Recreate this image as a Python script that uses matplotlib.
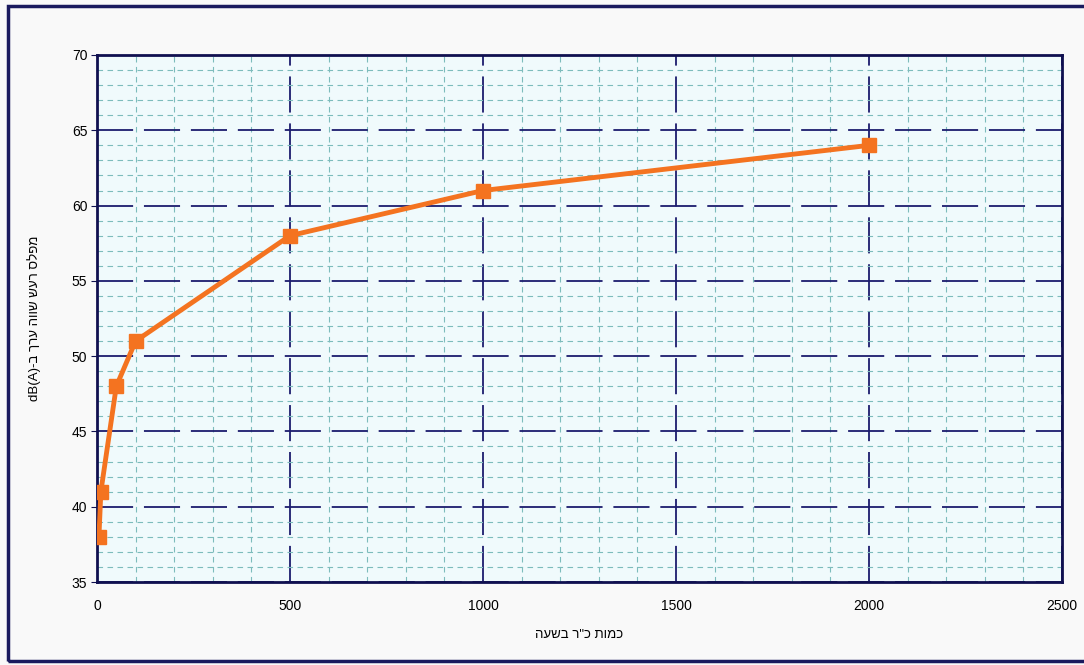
import matplotlib

matplotlib.use("Agg")
import matplotlib.pyplot as plt
from matplotlib.patches import Rectangle
from matplotlib.ticker import MultipleLocator

# נתונים: כמות כלי רכב בשעה מול מפלס רעש
flow = [5, 10, 50, 100, 500, 1000, 2000]
noise_db = [38, 41, 48, 51, 58, 61, 64]

# matplotlib אינו מטפל בכיווניות, לכן המחרוזות בסדר חזותי
x_label = 'העשב ר"כ תומכ'
y_label = "dB(A)-ב ךרע הווש שער סלפמ"

plt.rcParams["font.family"] = ["Liberation Sans", "DejaVu Sans"]

W, H = 1084, 665
fig = plt.figure(figsize=(W / 100, H / 100), dpi=100, facecolor="#f9f9f9")

# מסגרת חיצונית (הצד הימני יוצא מהתמונה)
fig.patches.append(Rectangle((8 / W, 4 / H), 1.1, (H - 10) / H, transform=fig.transFigure,
                             fill=False, edgecolor="#1a1a5e", linewidth=2.5))

ax = fig.add_axes([97 / W, 1 - 582 / H, (1062 - 97) / W, (582 - 55) / H])
ax.set_facecolor("#f0fafc")

ax.plot(flow, noise_db, color="#f47320", linewidth=3.5, marker="s",
        markersize=10, markerfacecolor="#f47320", markeredgecolor="#f47320", zorder=5)

ax.set_xlim(0, 2500)
ax.set_ylim(35, 70)
ax.xaxis.set_major_locator(MultipleLocator(500))
ax.xaxis.set_minor_locator(MultipleLocator(100))
ax.yaxis.set_major_locator(MultipleLocator(5))
ax.yaxis.set_minor_locator(MultipleLocator(1))

ax.grid(which="minor", color="#7dbcbc", linestyle=(0, (5, 4)), linewidth=0.8)
ax.grid(which="major", color="#1c1c6e", linestyle=(0, (20, 6)), linewidth=1.3)
ax.set_axisbelow(True)

for s in ax.spines.values():
    s.set_color("#101050")
    s.set_linewidth(2)

ax.tick_params(axis="y", which="major", direction="out", length=4, color="#101050",
               labelsize=10, pad=3)
ax.tick_params(axis="x", which="major", length=0, labelsize=10, pad=12)
ax.tick_params(which="minor", length=0)

ax.set_xlabel(x_label, fontsize=9.5, labelpad=12)
ax.set_ylabel(y_label, fontsize=9.5, labelpad=22)

fig.savefig("out.png", dpi=100, facecolor=fig.get_facecolor())
